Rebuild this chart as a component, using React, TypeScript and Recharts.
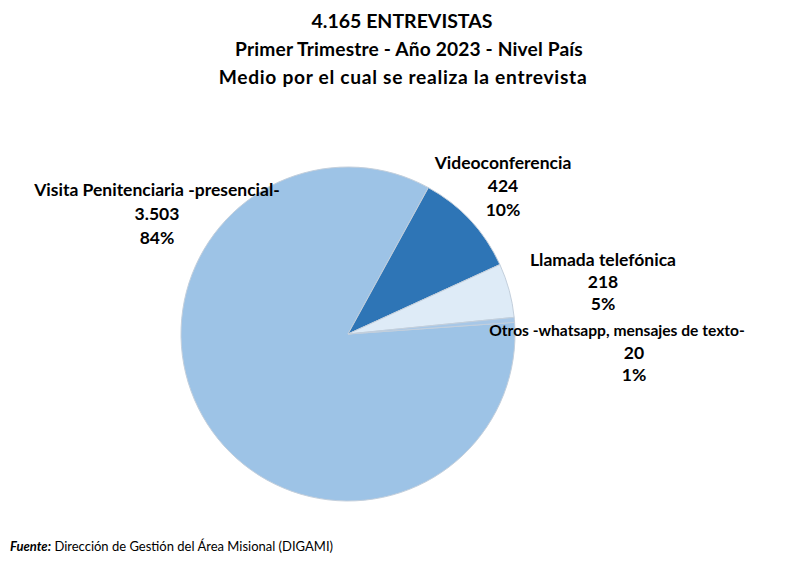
import React from "react";
import { PieChart, Pie, Cell } from "recharts";

const categories = [
  "Visita Penitenciaria -presencial-",
  "Videoconferencia",
  "Llamada telefónica",
  "Otros -whatsapp, mensajes de texto-",
];
const values = [3503, 424, 218, 20];
const valueLabels = ["3.503", "424", "218", "20"];
const percentLabels = ["84%", "10%", "5%", "1%"];
const colors = ["#9DC3E6", "#2E75B6", "#DEEBF7", "#A7C7E7"];

// label block centre offsets relative to pie centre (style)
const labelDx = [-191, 155, 255, 286];
const labelDy = [-121, -149, -53, 18];
const lineGap = [24, 23.5, 22, 22];
const nameShift = [0, 0, 0, -17];
const nameSize = [17.5, 17.5, 17.5, 15.6];

const data = categories.map((name, i) => ({ name, value: values[i] }));

const FONT = "Lato, 'Open Sans', sans-serif";

const renderLabel = (props: any) => {
  const { cx, cy, index } = props;
  const x = cx + labelDx[index];
  const y = cy + labelDy[index];
  const g = lineGap[index];
  return (
    <g>
      <text
        x={x}
        y={y}
        textAnchor="middle"
        dominantBaseline="central"
        fontFamily={FONT}
        fontWeight={700}
        fontSize={17.5}
        fill="#000"
      >
        <tspan x={x + nameShift[index]} y={y - g} fontSize={nameSize[index]}>
          {categories[index]}
        </tspan>
        <tspan x={x} y={y}>{valueLabels[index]}</tspan>
        <tspan x={x} y={y + g}>{percentLabels[index]}</tspan>
      </text>
    </g>
  );
};

export default function App() {
  return (
    <div
      style={{
        position: "absolute",
        left: 0,
        top: 0,
        width: 804,
        height: 570,
        background: "#fff",
        fontFamily: FONT,
      }}
    >
      <div
        style={{
          position: "absolute",
          left: 0,
          width: 804,
          top: 7,
          textAlign: "center",
          fontWeight: 700,
          color: "#000",
        }}
      >
        <div style={{ fontSize: 19.5, lineHeight: "28px" }}>4.165 ENTREVISTAS</div>
        <div style={{ fontSize: 19.2, lineHeight: "28px", marginLeft: 14, letterSpacing: 0.15 }}>
          Primer Trimestre - Año 2023 - Nivel País
        </div>
        <div style={{ fontSize: 19.2, lineHeight: "28px", marginLeft: 2, letterSpacing: 0.7 }}>
          Medio por el cual se realiza la entrevista
        </div>
      </div>
      <div style={{ position: "absolute", left: 0, top: 0 }}>
        <PieChart width={804} height={570} margin={{ top: 0, right: 0, bottom: 0, left: 0 }}>
          <Pie
            data={data}
            dataKey="value"
            nameKey="name"
            cx={348}
            cy={334}
            outerRadius={167}
            startAngle={4}
            endAngle={-356}
            stroke="#c3cfdc"
            strokeWidth={1}
            label={renderLabel}
            labelLine={false}
            isAnimationActive={false}
          >
            {data.map((d, i) => (
              <Cell key={d.name} fill={colors[i]} />
            ))}
          </Pie>
        </PieChart>
      </div>
      <div
        style={{
          position: "absolute",
          left: 10,
          top: 538,
          fontSize: 13,
          color: "#000",
          fontFamily: FONT,
        }}
      >
        <span style={{ fontWeight: 700, fontStyle: "italic" }}>Fuente:</span>{" "}
        Dirección de Gestión del Área Misional (DIGAMI)
      </div>
    </div>
  );
}
